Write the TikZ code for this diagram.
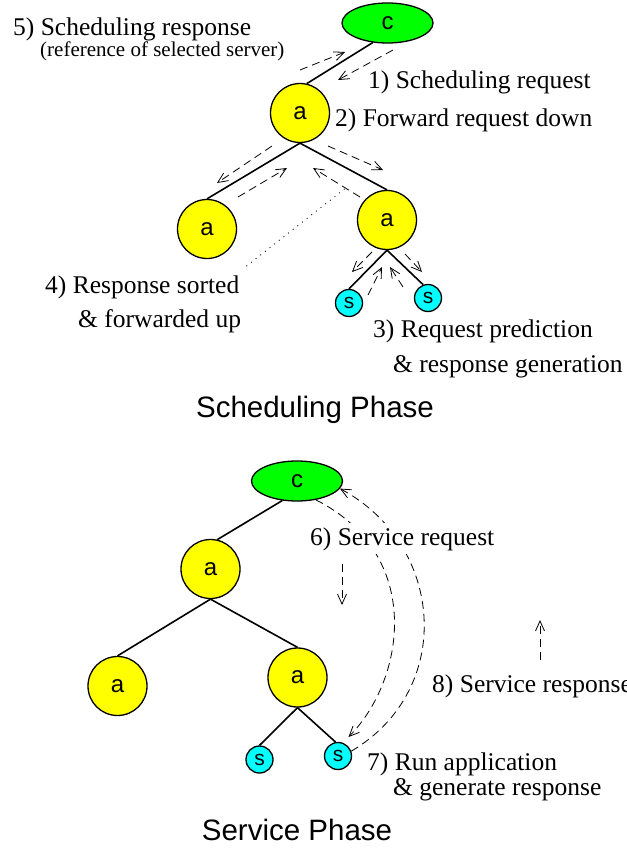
\documentclass[tikz,border=0pt]{standalone}
\usepackage{fontspec}
\setmainfont{Liberation Serif}
\setsansfont{Liberation Sans}
\usetikzlibrary{shapes.geometric, arrows.meta, calc}
\definecolor{cgreen}{RGB}{0,255,0}
\definecolor{ayellow}{RGB}{255,255,0}
\definecolor{scyan}{RGB}{0,255,255}

\begin{document}
\begin{tikzpicture}[
  x=1pt, y=-1pt,
  cnode/.style={draw, line width=1.3pt, ellipse, fill=cgreen, minimum width=91pt, minimum height=40pt, inner sep=0pt, font=\fontsize{24}{24}\sffamily},
  anode/.style={draw, line width=1.3pt, circle, fill=ayellow, minimum size=59pt, inner sep=0pt, font=\fontsize{24}{24}\sffamily},
  snode/.style={draw, line width=1.3pt, circle, fill=scyan, minimum size=27pt, inner sep=0pt, font=\fontsize{21}{21}\sffamily},
  link/.style={line width=1.6pt},
  flow/.style={line width=0.8pt, dash pattern=on 8pt off 5pt, -{Straight Barb[length=10pt, width=9pt]}},
  lbl/.style={anchor=base west, inner sep=0pt, font=\fontsize{25.5}{30}\selectfont},
  phase/.style={anchor=base, inner sep=0pt, font=\fontsize{29.5}{32}\sffamily},
]
  \useasboundingbox (0,0) rectangle (626,848);

  % scheduling phase
  \node[cnode] (c1) at (387.5,23) {c};
  \node[anode] (a1) at (300,113) {a};
  \node[anode] (a2) at (207,229) {a};
  \node[anode] (a3) at (387,220) {a};
  \node[snode] (s1) at (349,303) {s};
  \node[snode] (s2) at (428,298) {s};
  \draw[link] (c1.233) -- (a1.77);
  \draw[link] (a1.south) -- (a2.north);
  \draw[link] (a1.south) -- (a3.north);
  \draw[link] (a3.south) -- (s1.north);
  \draw[link] (a3.south) -- (s2.110);

  \draw[flow] (300,70) -- (345,52);
  \draw[flow] (393,50) -- (338,80);
  \draw[flow] (272,146) -- (217,183);
  \draw[flow] (238,197) -- (287,168);
  \draw[flow] (360,197) -- (313,168);
  \draw[flow] (328,146) -- (383,170);
  \draw[flow] (372,252) -- (352,272);
  \draw[flow] (368,295) -- (382,267);
  \draw[flow] (403,287) -- (390,267);
  \draw[flow] (405,254) -- (422,272);

  \node[lbl] (lbl5) at (13,36) {5) Scheduling response};
  \node[lbl, font=\fontsize{21}{24}\selectfont] (lbl5b) at (40,57) {(reference of selected server)};
  \node[lbl] (lbl1) at (368,89) {1) Scheduling request};
  \node[lbl] (lbl2) at (335,127) {2) Forward request down};
  \node[lbl] (lbl4) at (45,293) {4) Response sorted};
  \node[lbl] (lbl4b) at (78,327) {\& forwarded up};
  \node[lbl] (lbl3) at (373,337) {3) Request prediction};
  \node[lbl] (lbl3b) at (393,372) {\& response generation};
  \draw[line width=0.9pt, dash pattern=on 0.9pt off 5pt] ($(lbl4.north east)+(7,-9)$) -- (347,187);
  \node[phase] (ph1) at (315,417) {Scheduling Phase};

  % service phase
  \node[cnode] (c2) at (297,481) {c};
  \node[anode] (b1) at (210.5,569) {a};
  \node[anode] (b2) at (117.5,686) {a};
  \node[anode] (b3) at (297.5,677.5) {a};
  \node[snode] (t1) at (259.5,759.5) {s};
  \node[snode] (t2) at (338,756) {s};
  \draw[link] (c2.233) -- (b1.77);
  \draw[link] (b1.south) -- (b2.north);
  \draw[link] (b1.south) -- (b3.north);
  \draw[link] (b3.south) -- (t1.north);
  \draw[link] (b3.south) -- (t2.100);

  \draw[flow, shorten >=8pt] (c2.315) .. controls (425,555) and (405,680) .. (t2.70);
  \draw[flow] (t2.20) .. controls (455,690) and (445,545) .. (c2.350);
  \node[lbl, fill=white, inner sep=4pt] (lbl6) at (306,545) {6) Service request};

  \coordinate (req0) at (342,564);
  \coordinate (req1) at (342,605);
  \draw[flow] (req0) -- (req1);
  \coordinate (rsp0) at (540,660);
  \coordinate (rsp1) at (540,620);
  \draw[flow] (rsp0) -- (rsp1);

  \node[lbl] (lbl8) at (432,692) {8) Service response};
  \node[lbl] (lbl7) at (367,770) {7) Run application};
  \node[lbl] (lbl7b) at (393,795) {\& generate response};
  \node[phase] (ph2) at (297,840) {Service Phase};
\end{tikzpicture}
\end{document}
